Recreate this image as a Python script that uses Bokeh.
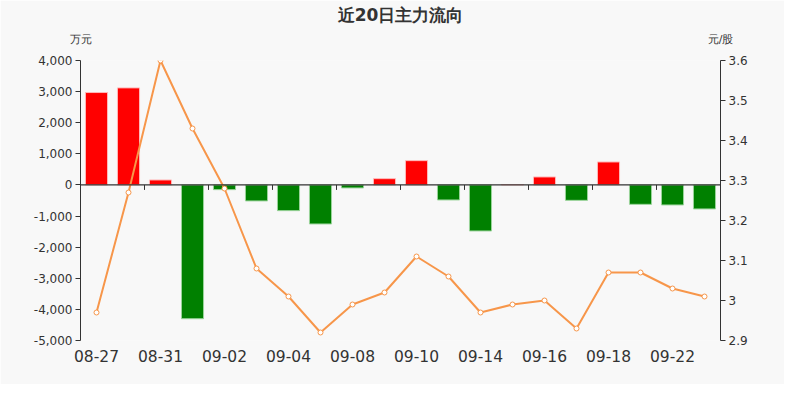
from bokeh.plotting import figure
from bokeh.models import (Range1d, LinearAxis, FixedTicker, NumeralTickFormatter,
                          CustomJSTickFormatter, Span, ColumnDataSource)
from bokeh.embed import file_html
from bokeh.resources import INLINE

# ---- data ----
title = "近20日主力流向"
left_unit = "万元"
right_unit = "元/股"
dates = ["08-27", "08-28", "08-31", "09-01", "09-02", "09-03", "09-04", "09-07",
         "09-08", "09-09", "09-10", "09-11", "09-14", "09-15", "09-16", "09-17",
         "09-18", "09-21", "09-22", "09-23"]
net_flow = [2970, 3120, 160, -4300, -151, -514, -826, -1254, -96, 202,
            781, -482, -1479, 12, 257, -495, 739, -623, -643, -771]
price = [2.97, 3.27, 3.60, 3.43, 3.28, 3.08, 3.01, 2.92, 2.99, 3.02,
         3.11, 3.06, 2.97, 2.99, 3.00, 2.93, 3.07, 3.07, 3.03, 3.01]
left_ticks = [-5000, -4000, -3000, -2000, -1000, 0, 1000, 2000, 3000, 4000]
right_ticks = [2.9, 3.0, 3.1, 3.2, 3.3, 3.4, 3.5, 3.6]

BG = "#f8f8f8"
TXT = "#333333"
idx = list(range(len(dates)))
x_lo, x_hi = -0.5, len(dates) - 0.5

fill = ["#ff0000" if v >= 0 else "#008000" for v in net_flow]
edge = ["#ffb8b8" if v >= 0 else "#9ad49a" for v in net_flow]
src = ColumnDataSource(dict(x=idx, top=net_flow, fill=fill, edge=edge, price=price))

p = figure(width=784, height=384, output_backend="svg", toolbar_location=None,
           x_range=Range1d(x_lo, x_hi),
           y_range=Range1d(left_ticks[0], left_ticks[-1]),
           min_border_left=80, min_border_right=64, min_border_top=60, min_border_bottom=44,
           background_fill_color=BG, border_fill_color=BG, outline_line_color=None)
p.xgrid.visible = False
p.ygrid.visible = False

p.extra_y_ranges = {"price": Range1d(right_ticks[0], right_ticks[-1])}

# bars
p.vbar(x="x", top="top", bottom=0, width=0.69, source=src,
       fill_color="fill", line_color="edge", line_width=1)

# zero line with boundary ticks
p.add_layout(Span(location=0, dimension="width", line_color=TXT, line_width=1.2))
bounds = [i + 0.5 for i in range(1, len(dates) - 1, 2)]
p.segment(x0=bounds, x1=bounds, y0=[0] * len(bounds), y1=[-160] * len(bounds),
          line_color=TXT, line_width=1)

# price line
p.line(x="x", y="price", source=src, y_range_name="price",
       line_color="#f7964a", line_width=2)
p.scatter(x="x", y="price", source=src, y_range_name="price", size=5,
          fill_color="white", line_color="#f7964a", line_width=1)

# left axis
ya = p.yaxis[0]
ya.ticker = FixedTicker(ticks=left_ticks)
ya.formatter = NumeralTickFormatter(format="0,0")
ya.axis_line_color = TXT
ya.major_tick_line_color = TXT
ya.major_tick_out = 5
ya.major_tick_in = 0
ya.minor_tick_line_color = None
ya.major_label_text_font = "DejaVu Sans"
ya.major_label_text_font_size = "12px"
ya.major_label_text_color = TXT
ya.major_label_standoff = 3

# right axis
ra = LinearAxis(y_range_name="price", ticker=FixedTicker(ticks=right_ticks),
                formatter=CustomJSTickFormatter(code="return tick.toFixed(1).replace(/\\.0$/, '');"))
ra.axis_line_color = TXT
ra.major_tick_line_color = TXT
ra.major_tick_out = 5
ra.major_tick_in = 0
ra.minor_tick_line_color = None
ra.major_label_text_font = "DejaVu Sans"
ra.major_label_text_font_size = "12px"
ra.major_label_text_color = TXT
ra.major_label_standoff = 3
p.add_layout(ra, "right")

# x axis
xa = p.xaxis[0]
xa.ticker = FixedTicker(ticks=idx[::2])
xa.major_label_overrides = {i: dates[i] for i in idx[::2]}
xa.axis_line_color = None
xa.major_tick_line_color = None
xa.minor_tick_line_color = None
xa.major_label_text_font = "DejaVu Sans"
xa.major_label_text_font_size = "15.5px"
xa.major_label_text_color = TXT
xa.major_label_standoff = 3

# top axis: unit labels at the frame corners, title as its axis label
ta = LinearAxis(ticker=FixedTicker(ticks=[x_lo, x_hi]),
                major_label_overrides={x_lo: left_unit, x_hi: right_unit})
ta.axis_line_color = None
ta.major_tick_line_color = None
ta.minor_tick_line_color = None
ta.major_label_text_font = "DejaVu Sans"
ta.major_label_text_font_size = "11px"
ta.major_label_text_color = TXT
ta.major_label_standoff = 9
ta.axis_label = title
ta.axis_label_text_font = "DejaVu Sans"
ta.axis_label_text_font_style = "bold"
ta.axis_label_text_font_size = "17px"
ta.axis_label_text_color = TXT
ta.axis_label_standoff = 5
p.add_layout(ta, "above")

open("out.html", "w").write(file_html(p, INLINE))
